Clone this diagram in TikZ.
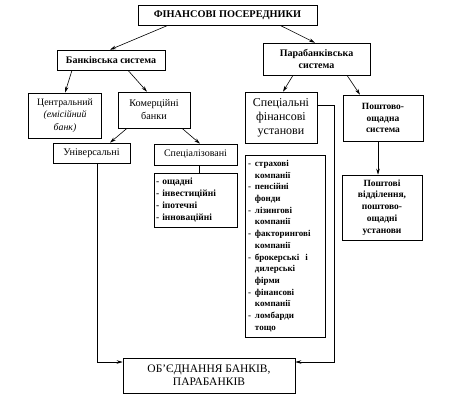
\documentclass[tikz,border=0pt]{standalone}
\usepackage{fontspec}
\setmainfont{Liberation Serif}
\usetikzlibrary{arrows.meta}

\tikzset{
    box/.style={draw, line width=0.6pt, align=center, inner sep=1pt},
    arr/.style={line width=0.6pt, -{Stealth[length=6pt,width=3.5pt]}},
    lnk/.style={line width=0.6pt}
}

\begin{document}
\begin{tikzpicture}[x=1pt, y=-1pt]
                \useasboundingbox (0,0) rectangle (472,405);

                \node[box, minimum width=179pt, minimum height=20pt,
                    font=\fontsize{10.3}{12}\selectfont\bfseries]
                    (fin) at (227.5,15) {ФІНАНСОВІ ПОСЕРЕДНИКИ};
                \node[box, minimum width=108pt, minimum height=20pt,
                    font=\fontsize{10}{12}\selectfont\bfseries]
                    (bank) at (111,60) {Банківська система};
                \node[box, minimum width=107pt, minimum height=32pt,
                    font=\fontsize{10}{12}\selectfont\bfseries]
                    (para) at (316.5,59) {Парабанківська\\система};

                \node[box, minimum width=73pt, minimum height=45pt,
                    font=\fontsize{9.8}{12.5}\selectfont]
                    (central) at (65,115.5) {Центральний\\\textit{(емісійний}\\\textit{банк)}};
                \node[box, minimum width=72pt, minimum height=36pt,
                    font=\fontsize{10.2}{13}\selectfont]
                    (comm) at (154,110) {Комерційні\\банки};
                \node[box, minimum width=72pt, minimum height=51pt,
                    font=\fontsize{12}{14}\selectfont]
                    (spec) at (281,117.5) {Спеціальні\\фінансові\\установи};
                \node[box, minimum width=80pt, minimum height=46pt,
                    font=\fontsize{9.5}{11.7}\selectfont\bfseries]
                    (post) at (383,118) {Поштово-\\ощадна\\система};

                \node[box, minimum width=77pt, minimum height=20pt,
                    font=\fontsize{10.2}{12}\selectfont]
                    (univ) at (91.5,153) {Універсальні};
                \node[box, minimum width=83pt, minimum height=21pt,
                    font=\fontsize{10}{12}\selectfont]
                    (specd) at (195.5,154.5) {Спеціалізовані};
                \node[box, minimum width=83pt, minimum height=54pt, text width=79pt,
                    align=left, font=\fontsize{9.5}{12}\selectfont\bfseries]
                    (specdlist) at (195.5,200) {- ощадні\\- інвестиційні\\- іпотечні\\- інноваційні};

                \node[box, minimum width=80pt, minimum height=182pt, text width=74pt,
                    align=left, font=\fontsize{9}{11.7}\selectfont\bfseries]
                    (speclist) at (285,246) {%
                    \begin{tabular}{@{}l@{\hspace{4pt}}l@{}}
                    - & страхові\\ & компанії\\
                    - & пенсійні\\ & фонди\\
                    - & лізингові\\ & компанії\\
                    - & факторингові\\ & компанії\\
                    - & брокерські\ \ і\\ & дилерські\\ & фірми\\
                    - & фінансові\\ & компанії\\
                    - & ломбарди\\ & тощо
                    \end{tabular}};
                \node[box, minimum width=80pt, minimum height=65pt,
                    font=\fontsize{9.5}{11.8}\selectfont\bfseries]
                    (postoff) at (382,207.5) {Поштові\\відділення,\\поштово-\\ощадні\\установи};

                \node[box, minimum width=172pt, minimum height=35pt,
                    font=\fontsize{11.5}{13.3}\selectfont]
                    (union) at (209,375.5) {ОБ'ЄДНАННЯ БАНКІВ,\\ПАРАБАНКІВ};

                % arrows between levels
                \draw[arr] ([xshift=-59.5pt]fin.south) -- ([xshift=-1pt]bank.north);
                \draw[arr] ([xshift=52.5pt]fin.south) -- ([xshift=-1.5pt]para.north);
                \draw[arr] ([xshift=-39pt]bank.south) -- (central.north);
                \draw[arr] ([xshift=17pt]bank.south) -- ([xshift=-7pt]comm.north);
                \draw[arr] ([xshift=-23.5pt]para.south) -- ([xshift=2pt]spec.north);
                \draw[arr] ([xshift=30.5pt]para.south) -- ([xshift=-23pt]post.north);
                \draw[arr] ([xshift=-27pt]comm.south) -- ([xshift=18.5pt]univ.north);
                \draw[arr] ([xshift=28pt]comm.south) -- ([xshift=4.5pt]specd.north);
                \draw[arr] ([xshift=-5pt]post.south) -- ([xshift=-4pt]postoff.north);
                \draw[lnk] ([xshift=3.5pt]specd.south) -- ([xshift=3.5pt]specdlist.north);

                % lines to the union box
                \draw[arr] ([xshift=5.5pt]univ.south) |- ([yshift=13.5pt]union.west);
                \draw[arr] ([yshift=12.5pt]spec.east) -- ++(17,0) |- ([yshift=13.5pt]union.east);
\end{tikzpicture}
\end{document}
